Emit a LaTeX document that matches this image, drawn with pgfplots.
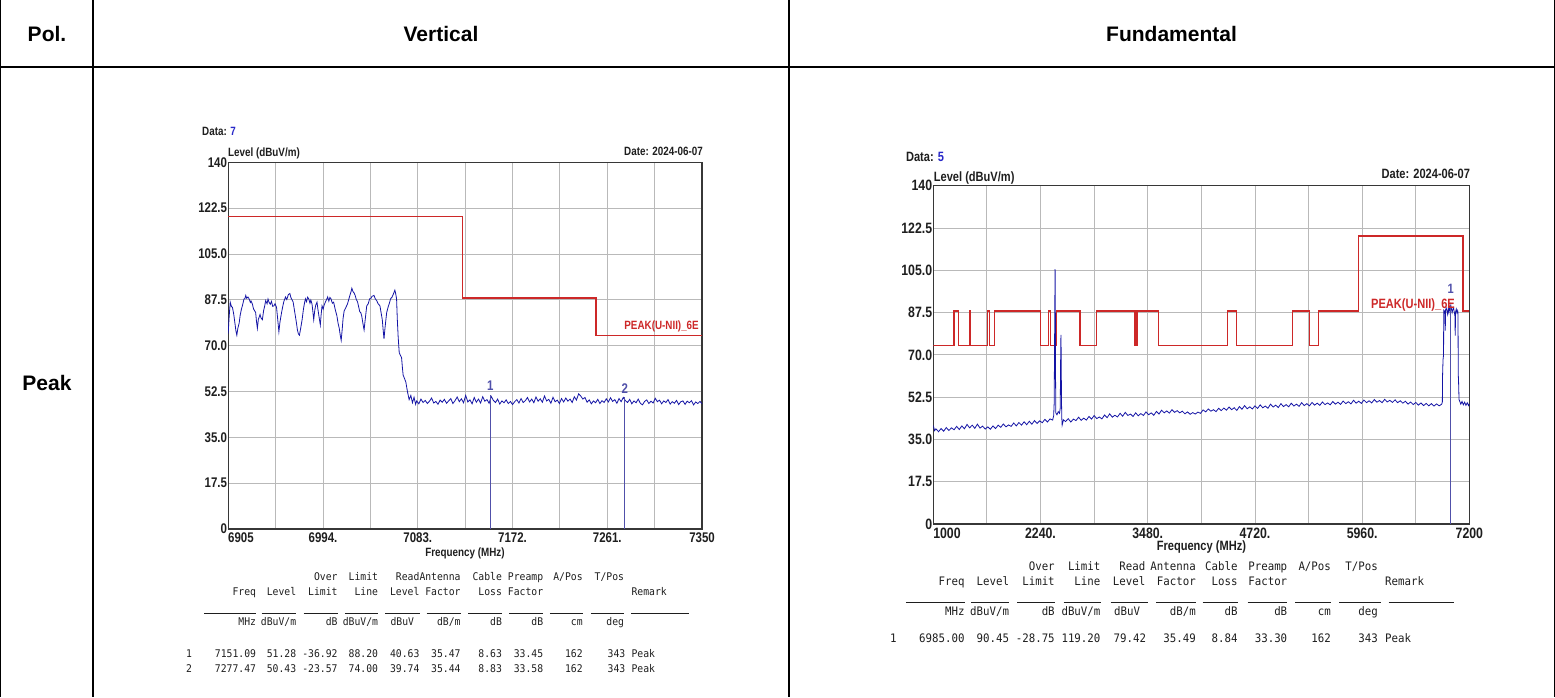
\documentclass[border=0pt]{standalone}
\usepackage{fontspec}
\setmainfont{Liberation Sans}
\newfontfamily\nar[FakeStretch=0.82]{Liberation Sans}
\newfontfamily\mono[FakeStretch=0.92]{DejaVu Sans Mono}
\usepackage{pgfplots}
\usepackage{pgfplotstable}
\pgfplotsset{compat=1.18}
\definecolor{trace}{RGB}{20,20,165}
\definecolor{mk}{RGB}{80,80,170}
\definecolor{lim}{RGB}{205,40,40}
\definecolor{gridc}{RGB}{185,185,185}
\definecolor{frame}{RGB}{55,55,55}
\definecolor{num}{RGB}{40,40,200}
\definecolor{txt}{RGB}{30,30,30}
\newcommand{\pfL}{\nar\bfseries\fontsize{12}{14}\selectfont}
\newcommand{\pfLt}{\nar\bfseries\fontsize{14}{16}\selectfont}
\newcommand{\pfR}{\nar\bfseries\fontsize{13.5}{16}\selectfont}
\newcommand{\pfRt}{\nar\bfseries\fontsize{15}{17}\selectfont}
\newcommand{\mL}{\mono\fontsize{10.6}{12}\selectfont}
\newcommand{\mR}{\mono\fontsize{11.7}{13}\selectfont}
\newcommand{\hdr}{\bfseries\fontsize{21}{24}\selectfont}

\pgfplotstableread{
x y
6905.0 74.6
6905.8 80.5
6906.9 86.6
6908.0 85.0
6909.0 84.6
6910.2 82.0
6911.5 78.0
6912.3 75.5
6913.1 74.0
6914.0 76.5
6915.3 78.6
6916.2 81.5
6917.4 83.9
6918.5 85.5
6919.8 87.8
6920.7 88.0
6921.5 89.2
6922.4 88.1
6923.5 88.6
6924.6 87.9
6925.8 86.5
6926.5 87.0
6927.7 85.9
6928.8 84.0
6929.6 83.5
6930.8 82.6
6931.5 79.5
6932.4 76.6
6933.3 80.0
6934.9 81.9
6935.8 80.6
6937.1 79.9
6938.3 83.5
6939.2 85.0
6940.2 87.2
6941.5 86.0
6942.4 87.8
6943.3 86.6
6944.5 85.8
6945.6 86.9
6946.8 85.0
6947.9 85.2
6949.0 86.0
6950.4 84.6
6951.5 80.0
6952.6 75.3
6953.6 79.0
6955.1 82.6
6956.0 84.5
6957.2 86.8
6958.8 88.6
6960.0 87.6
6961.5 89.5
6962.9 89.9
6964.0 88.2
6965.0 87.5
6966.0 86.6
6967.2 83.5
6968.2 81.0
6969.1 78.6
6970.0 76.0
6970.9 74.5
6971.9 74.0
6973.0 76.5
6974.4 79.9
6975.5 83.5
6976.3 85.5
6977.5 87.9
6978.6 86.8
6979.5 88.5
6980.6 87.9
6981.8 86.2
6982.6 87.4
6983.7 85.9
6984.5 83.0
6985.3 79.9
6986.3 83.5
6987.2 85.5
6988.4 86.6
6989.2 84.0
6990.3 81.0
6991.5 77.9
6992.2 81.5
6993.1 85.2
6994.2 84.0
6995.1 85.5
6996.2 86.6
6997.3 87.5
6998.4 88.6
6999.5 87.0
7000.5 88.4
7001.5 87.9
7002.8 86.2
7004.0 86.6
7005.4 84.0
7007.1 81.3
7008.2 78.5
7009.3 76.6
7010.2 74.0
7011.1 72.0
7012.0 76.0
7012.9 80.5
7013.9 83.3
7015.4 84.5
7017.0 85.9
7018.3 87.8
7019.5 89.5
7020.3 90.5
7021.1 91.9
7022.2 90.6
7023.1 90.2
7024.2 89.2
7025.4 87.5
7026.4 86.8
7027.3 85.2
7028.5 83.0
7029.6 82.5
7030.4 81.3
7031.5 78.5
7032.6 76.0
7033.8 80.5
7035.1 85.2
7036.5 86.0
7037.8 87.9
7038.8 87.9
7040.0 88.8
7041.9 89.2
7043.0 88.0
7044.4 87.2
7045.8 86.0
7047.5 85.2
7048.6 82.5
7049.7 79.9
7050.5 76.0
7051.3 72.6
7052.3 77.0
7053.8 82.6
7055.0 84.5
7056.2 86.0
7057.5 87.9
7058.8 88.5
7060.0 89.6
7061.5 91.2
7062.3 89.8
7063.1 87.9
7063.8 80.0
7064.6 73.3
7065.6 67.3
7066.5 66.5
7067.8 65.4
7068.6 61.5
7069.3 58.7
7070.5 57.5
7071.8 56.1
7073.3 52.5
7074.9 49.4
7076.5 51.0
7078.0 48.2
7079.5 50.3
7081.0 47.6
7082 48.9
7084 47.8
7086 49.6
7088 48.3
7090 49.1
7092 47.9
7094 48.8
7096 50.0
7098 48.1
7100 48.7
7102 47.6
7104 49.2
7106 48.4
7108 49.5
7110 48.0
7112 48.9
7114 49.8
7116 47.9
7118 49.0
7120 50.4
7122 48.6
7124 49.7
7126 48.2
7128 51.0
7130 48.5
7132 49.3
7134 47.8
7136 50.2
7138 48.4
7140 49.6
7142 48.1
7144 50.5
7146 48.8
7148 49.4
7150 48.0
7152 50.6
7154 49.1
7156 48.3
7158 49.6
7160 47.7
7162 48.9
7164 48.2
7166 49.3
7168 47.9
7170 48.7
7172 47.5
7174 48.6
7176 49.4
7178 48.1
7180 49.8
7182 48.3
7184 49.0
7186 50.2
7188 48.5
7190 49.6
7192 48.2
7194 50.4
7196 48.8
7198 49.7
7200 48.4
7202 50.8
7204 48.9
7206 49.5
7208 48.0
7210 50.3
7212 48.6
7214 49.2
7216 47.9
7218 49.8
7220 48.5
7222 50.0
7224 48.8
7226 49.6
7228 48.3
7230 50.5
7232 49.2
7234 51.6
7236 50.8
7238 49.6
7240 50.2
7242 48.4
7244 49.3
7246 47.8
7248 48.9
7250 48.2
7252 49.5
7254 47.9
7256 49.0
7258 48.3
7260 49.7
7262 48.5
7264 50.1
7266 48.7
7268 49.4
7270 48.0
7272 49.8
7274 48.6
7276 50.2
7278 49.0
7280 48.3
7282 49.5
7284 47.8
7286 48.9
7288 48.2
7290 49.6
7292 48.0
7294 47.4
7296 48.7
7298 49.3
7300 47.9
7302 48.8
7304 48.1
7306 49.9
7308 48.6
7310 49.2
7312 47.8
7314 48.9
7316 48.3
7318 49.4
7320 47.7
7322 48.6
7324 48.0
7326 49.1
7328 47.5
7330 48.6
7332 48.9
7334 47.6
7336 48.8
7338 48.2
7340 49.0
7342 47.4
7344 48.5
7346 47.9
7348 48.7
7350 47.8
}\leftdata

\pgfplotstableread{
x y
6905 119.2
7125 88.2
7250.5 74
7350 74
}\leftlim

\pgfplotstableread{
x y
1000 40.8
1015 38.6
1030 39.4
1060 38.2
1090 39.5
1120 38.4
1150 39.9
1180 38.7
1210 39.8
1240 39.0
1270 40.4
1300 39.1
1330 40.6
1360 39.4
1390 41.2
1420 39.8
1450 40.9
1480 39.6
1510 41.3
1540 39.7
1570 40.5
1600 39.3
1630 40.2
1660 39.2
1690 40.6
1720 39.5
1750 40.9
1780 40.0
1810 41.4
1840 40.2
1870 41.0
1900 40.4
1930 41.8
1960 40.6
1990 42.0
2020 40.9
2050 42.3
2080 41.1
2110 42.5
2140 41.3
2170 42.8
2200 41.6
2230 42.7
2260 41.9
2290 43.3
2320 42.2
2350 43.5
2380 43.0
2392 44.8
2398 50
2402 72
2405 88
2408 105.5
2410 103
2412 80
2414 60
2417 46
2430 45.2
2445 46.5
2460 45.8
2468 48
2472 66
2476 78.3
2479 70
2482 52
2486 44
2490 40.9
2505 43.1
2530 42.4
2560 43.6
2590 42.2
2620 43.4
2650 42.8
2680 44.2
2710 42.9
2740 43.8
2770 43.0
2800 44.5
2830 43.4
2860 44.9
2890 43.6
2920 44.3
2950 43.5
2980 45.1
3010 44.0
3040 45.6
3070 44.2
3100 45.0
3130 44.3
3160 45.8
3190 44.6
3220 46.2
3250 44.9
3280 45.5
3310 44.5
3340 46.0
3370 44.8
3400 45.7
3430 44.9
3460 46.4
3490 45.2
3520 46.0
3550 45.0
3580 46.6
3610 45.5
3640 47.1
3670 46.0
3700 46.8
3730 45.9
3760 47.3
3790 46.2
3820 46.9
3850 46.0
3880 46.7
3910 45.6
3940 46.4
3970 45.4
4000 46.1
4030 45.5
4060 46.3
4090 45.8
4120 47.2
4150 46.4
4180 47.6
4210 46.7
4240 47.3
4270 46.5
4300 47.9
4330 46.9
4360 48.0
4390 47.1
4420 48.4
4450 47.3
4480 48.1
4510 47.0
4540 48.6
4570 47.5
4600 49.0
4630 47.7
4660 48.5
4690 47.6
4720 48.9
4750 47.8
4780 49.3
4810 48.1
4840 48.8
4870 47.9
4900 49.6
4930 48.4
4960 49.2
4990 48.2
5020 49.8
5050 48.6
5080 49.4
5110 48.5
5140 50.0
5170 48.8
5200 49.6
5230 48.7
5260 50.2
5290 49.0
5320 49.8
5350 48.9
5380 50.3
5410 49.2
5440 50.0
5470 49.1
5500 50.5
5530 49.4
5560 50.1
5590 49.3
5620 50.7
5650 49.6
5680 50.4
5710 49.5
5740 50.9
5770 49.8
5800 50.6
5830 49.7
5860 51.2
5890 50.0
5920 50.8
5950 49.9
5980 51.3
6010 50.2
6040 51.0
6070 50.1
6100 51.5
6130 50.4
6160 51.1
6190 50.2
6220 51.6
6250 50.5
6280 51.2
6310 50.3
6340 51.4
6370 50.2
6400 51.0
6430 50.0
6460 50.8
6490 49.6
6520 50.5
6550 49.4
6580 50.3
6610 49.2
6640 50.1
6670 49.0
6700 49.9
6730 48.9
6760 49.8
6790 48.8
6820 49.7
6850 48.9
6880 49.6
6887 50.5
6890 62
6895 68
6901 70
6903 88.5
6910 88.2
6917 87.0
6921 80
6924 88.6
6932 89.3
6940 88.1
6948 86.8
6955 89.0
6963 87.6
6970 89.8
6978 88.4
6985 90.45
6992 89.0
7000 87.5
7008 88.8
7016 89.5
7024 87.9
7032 86.4
7036 78
7040 87.8
7048 88.9
7056 87.4
7064 88.3
7068 87.6
7071 62
7075 58.5
7080 51.5
7088 50.8
7100 49.6
7115 50.7
7130 49.3
7145 50.4
7160 49.1
7175 50.2
7190 49.0
7200 49.8
}\rightdata

\pgfplotstableread{
x y
1000 74
1240 88.2
1291 74
1418 88.2
1434 74
1628 88.2
1651 74
1705 88.2
2241 74
2330 88.2
2357 74
2427 88.2
2697 74
2891 88.2
3325 74
3330 88.2
3338 74
3343 88.2
3350 74
3356 88.2
3604 74
4403 88.2
4503 74
5154 88.2
5348 74
5456 88.2
5921 119.2
7126 88.2
7200 88.2
}\rightlim

\pgfplotsset{spec/.style={
  scale only axis, grid=major,
  major grid style={draw=gridc, line width=0.9pt},
  axis line style={draw=frame, line width=1.3pt},
  tick style={draw=none},
  ymin=0, ymax=140,
  ytick={0,17.5,35,52.5,70,87.5,105,122.5,140},
  yticklabels={0,17.5,35.0,52.5,70.0,87.5,105.0,122.5,140},
  yticklabel style={inner xsep=1pt},
  clip=true,
}}

\begin{document}
\begin{tikzpicture}
\path[use as bounding box] (0,0) rectangle (1555pt,697pt);

% ---------- left spectrum ----------
\begin{axis}[spec, at={(228.2pt,168pt)}, anchor=south west,
  width=473.9pt, height=366.7pt,
  xmin=6905, xmax=7350,
  xtick={6905,6949.5,6994,7038.5,7083,7127.5,7172,7216.5,7261,7305.5,7350},
  xticklabels={\makebox[0pt][l]{6905},,6994.,,7083.,,7172.,,7261.,,7350},
  ticklabel style={font=\pfLt, text=txt}]
\addplot[draw=lim, line width=1.3pt, const plot] table {\leftlim};
\addplot[draw=trace, line width=0.8pt] table {\leftdata};
\addplot[draw=mk, line width=0.9pt] coordinates {(7151.09,0) (7151.09,51.28)};
\addplot[draw=mk, line width=0.9pt] coordinates {(7277.47,0) (7277.47,50.43)};
\node[font=\pfLt, text=mk] at (axis cs:7151.09,54.6) {1};
\node[font=\pfLt, text=mk] at (axis cs:7277.47,53.6) {2};
\node[font=\pfL, text=lim, anchor=east, inner sep=1pt] at (axis cs:7348,77.3) {PEAK(U-NII)\_6E};
\end{axis}

% ---------- right spectrum ----------
\begin{axis}[spec, at={(933.3pt,173pt)}, anchor=south west,
  width=536.1pt, height=338.3pt,
  xmin=1000, xmax=7200,
  xtick={1000,1620,2240,2860,3480,4100,4720,5340,5960,6580,7200},
  xticklabels={\makebox[0pt][l]{1000},,2240.,,3480.,,4720.,,5960.,,7200},
  ticklabel style={font=\pfRt, text=txt}]
\addplot[draw=lim, line width=1.3pt, const plot] table {\rightlim};
\addplot[draw=trace, line width=0.8pt] table {\rightdata};
\addplot[draw=mk, line width=0.9pt] coordinates {(6985,0) (6985,90.45)};
\node[font=\pfR, text=mk] at (axis cs:6985,97.5) {1};
\node[font=\pfR, text=lim, anchor=east, inner sep=1pt] at (axis cs:7045,90.6) {PEAK(U-NII)\_6E};
\end{axis}

\begin{scope}[x=1pt, y=-1pt, shift={(0pt,697pt)}]
% table frame
\draw[black, line width=1.3pt] (0.65,0) -- (0.65,697);
\draw[black, line width=1.3pt] (1554.35,0) -- (1554.35,697);
\draw[black, line width=1.3pt] (93,0) -- (93,697);
\draw[black, line width=1.3pt] (789,0) -- (789,697);
\draw[black, line width=1.3pt] (0,67) -- (1555,67);
\node[font=\hdr] at (47,34) {Pol.};
\node[font=\hdr] at (441,34) {Vertical};
\node[font=\hdr] at (1171.5,34) {Fundamental};
\node[font=\hdr] at (47,383) {Peak};

% left plot texts
\node[font=\pfL, anchor=west, inner sep=0pt, text=txt] at (202,131.5) {Data: \textcolor{num}{7}};
\node[font=\pfL, anchor=west, inner sep=0pt, text=txt] at (228,153.5) {Level (dBuV/m)};
\node[font=\pfL, anchor=east, inner sep=0pt, text=txt] at (703,151.7) {Date: 2024-06-07};
\node[font=\pfL, inner sep=0pt, text=txt] at (465,553.3) {Frequency (MHz)};

% right plot texts
\node[font=\pfR, anchor=west, inner sep=0pt, text=txt] at (905.8,157) {Data: \textcolor{num}{5}};
\node[font=\pfR, anchor=west, inner sep=0pt, text=txt] at (933.7,178.3) {Level (dBuV/m)};
\node[font=\pfR, anchor=east, inner sep=0pt, text=txt] at (1470.2,174.3) {Date: 2024-06-07};
\node[font=\pfR, inner sep=0pt, text=txt] at (1201.4,546.7) {Frequency (MHz)};

% left result table
\begin{scope}[every node/.style={font=\mL, text=txt, inner sep=0pt, anchor=mid east}]
\foreach \a/\b in {337.7/Over, 378.3/Limit, 419.6/Read, 460.8/Antenna, 502.1/Cable, 543.4/Preamp, 582.9/{A/Pos}, 624.2/{T/Pos}}
  \node at (\a,578.3) {\b};
\foreach \a/\b in {256.2/Freq, 296.4/Level, 337.7/Limit, 378.3/Line, 419.6/Level, 460.8/Factor, 502.1/Loss, 543.4/Factor}
  \node at (\a,593.3) {\b};
\node[anchor=mid west] at (631.4,593.3) {Remark};
\foreach \a/\b in {256.2/MHz, 296.4/{dBuV/m}, 337.7/dB, 378.3/{dBuV/m}, 414.2/dBuV, 460.8/{dB/m}, 502.1/dB, 543.4/dB, 582.9/cm, 624.2/deg}
  \node at (\a,623.3) {\b};
\foreach \a/\b in {256.2/7151.09, 296.4/51.28, 337.7/-36.92, 378.3/88.20, 419.6/40.63, 460.8/35.47, 502.1/8.63, 543.4/33.45, 582.9/162, 625.5/343}
  \node at (\a,655) {\b};
\foreach \a/\b in {256.2/7277.47, 296.4/50.43, 337.7/-23.57, 378.3/74.00, 419.6/39.74, 460.8/35.44, 502.1/8.83, 543.4/33.58, 582.9/162, 625.5/343}
  \node at (\a,670) {\b};
\node[anchor=mid west] at (186,655) {1};
\node[anchor=mid west] at (186,670) {2};
\node[anchor=mid west] at (631.4,655) {Peak};
\node[anchor=mid west] at (631.4,670) {Peak};
\end{scope}
\foreach \a/\b in {204.1/256.2, 261.6/296.4, 303.6/337.7, 344.9/378.3, 385.4/419.6, 426.7/460.8, 468/502.1, 509.3/543.4, 549.9/582.9, 590.8/624.2, 631.4/688.9}
  \draw[txt, line width=0.8pt] (\a,613.3) -- (\b,613.3);

% right result table
\begin{scope}[every node/.style={font=\mR, text=txt, inner sep=0pt, anchor=mid east}]
\foreach \a/\b in {1054.9/Over, 1100.6/Limit, 1145.5/Read, 1196/Antenna, 1237.7/Cable, 1287.4/Preamp, 1331.1/{A/Pos}, 1378/{T/Pos}}
  \node at (\a,568.3) {\b};
\foreach \a/\b in {964.7/Freq, 1009.2/Level, 1054.9/Limit, 1100.6/Line, 1145.5/Level, 1196/Factor, 1237.7/Loss, 1287.4/Factor}
  \node at (\a,583.3) {\b};
\node[anchor=mid west] at (1385,583.3) {Remark};
\foreach \a/\b in {964.7/MHz, 1009.2/{dBuV/m}, 1054.9/dB, 1100.6/{dBuV/m}, 1140.3/dBuV, 1196/{dB/m}, 1237.7/dB, 1287.4/dB, 1331.1/cm, 1378/deg}
  \node at (\a,613.3) {\b};
\foreach \a/\b in {964.7/6985.00, 1009.2/90.45, 1054.9/-28.75, 1100.6/119.20, 1146.3/79.42, 1196/35.49, 1237.7/8.84, 1287.4/33.30, 1331.1/162, 1378/343}
  \node at (\a,640) {\b};
\node[anchor=mid west] at (890,640) {1};
\node[anchor=mid west] at (1385,640) {Peak};
\end{scope}
\foreach \a/\b in {905.8/964.7, 971.4/1009.2, 1017.1/1054.9, 1063.6/1100.6, 1110.5/1147.5, 1156.2/1196, 1202.7/1237.7, 1247.6/1287.4, 1295.3/1331.1, 1339.1/1380.8, 1388.7/1454.3}
  \draw[txt, line width=0.8pt] (\a,602.7) -- (\b,602.7);
\end{scope}
\end{tikzpicture}
\end{document}
